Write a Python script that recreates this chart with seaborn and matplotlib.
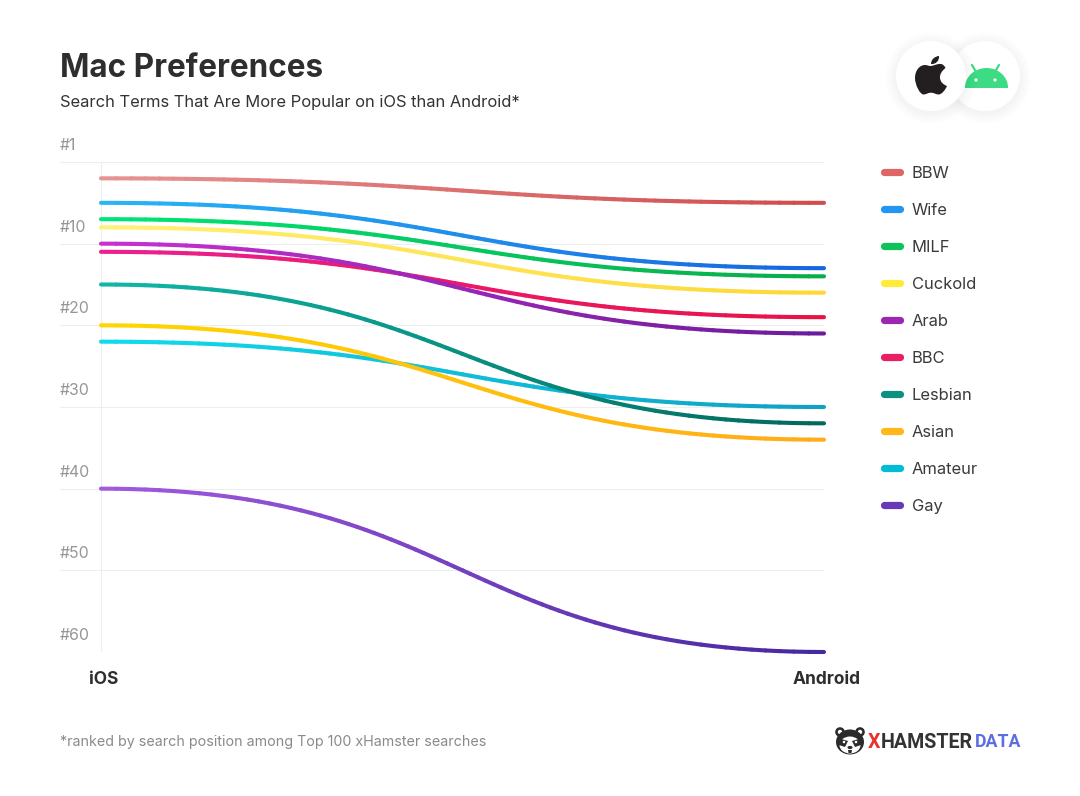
import matplotlib
matplotlib.use("Agg")
import matplotlib.pyplot as plt
import numpy as np
import pandas as pd
import seaborn as sns
from matplotlib.bezier import BezierSegment
from matplotlib.colors import to_rgb, to_hex
from matplotlib.lines import Line2D
from matplotlib.patches import Circle, Ellipse, PathPatch, Polygon, Rectangle
from matplotlib.path import Path
from matplotlib.transforms import ScaledTranslation

# ---- data -------------------------------------------------------------
terms = ["BBW", "Wife", "MILF", "Cuckold", "Arab", "BBC", "Lesbian", "Asian", "Amateur", "Gay"]
ios_rank = [2, 5, 7, 8, 10, 11, 15, 20, 22, 40]
android_rank = [5, 13, 14, 16, 21, 19, 32, 34, 30, 60]
platforms = ["iOS", "Android"]
rank_ticks = [0, 10, 20, 30, 40, 50, 60]
rank_labels = ["#1", "#10", "#20", "#30", "#40", "#50", "#60"]
legend_colors = ["#e06666", "#2196f3", "#0cc35a", "#ffeb3b", "#9c27b0",
                 "#e91e63", "#0d9080", "#ffb71b", "#00bcd4", "#673ab7"]
start_colors = ["#e89494", "#29b6f6", "#00e676", "#fff176", "#c931d0",
                "#ec2090", "#10b8a8", "#ffd600", "#10dcec", "#a35be0"]
end_colors = ["#cf4c4c", "#1565e0", "#0bab4a", "#fdd835", "#6a1b9a",
              "#e81245", "#00695c", "#ffab1a", "#10a0c4", "#4527a0"]

W, H = 1080, 796
DARK = "#2e2e2e"
FONT = "Inter"

sns.set_theme(style="white")
plt.rcParams["font.family"] = [FONT, "DejaVu Sans"]

fig = plt.figure(figsize=(W / 100, H / 100), dpi=100, facecolor="white")
ax = fig.add_axes([60 / W, (H - 652) / H, 764 / W, 490 / H])


def curve_frame(order):
    """Long table of short coloured pieces of each connector between the two ranks."""
    rows = []
    n = 70
    for i in order:
        a, b = ios_rank[i], android_rank[i]
        bez = BezierSegment(np.array([[0, a], [.5, a], [.5, b], [1, b]], float))
        pts = bez(np.linspace(0, 1, n + 1))
        c0, c1 = np.array(to_rgb(start_colors[i])), np.array(to_rgb(end_colors[i]))
        for k in range(n):
            key = f"{terms[i]}-{k:02d}"
            col = to_hex(c0 + (c1 - c0) * (pts[k, 0] + pts[k + 1, 0]) / 2)
            rows.append((key, pts[k, 0], pts[k, 1], col))
            rows.append((key, pts[k + 1, 0], pts[k + 1, 1], col))
    return pd.DataFrame(rows, columns=["piece", "x", "rank", "color"])


df = curve_frame(range(len(terms) - 1, -1, -1))
palette = dict(zip(df["piece"], df["color"]))
sns.lineplot(data=df, x="x", y="rank", hue="piece", hue_order=list(palette), palette=palette,
             estimator=None, sort=False, legend=False, ax=ax, linewidth=2.95,
             solid_capstyle="round", clip_on=False, zorder=3)

ax.set_xlim(-41 / 723, 1)
ax.set_ylim(60, 0)
ax.set_xlabel("")
ax.set_ylabel("")
for s in ax.spines.values():
    s.set_visible(False)
ax.set_xticks([0, 1], platforms)
ax.set_yticks(rank_ticks, rank_labels)
ax.grid(True, color="#eeeeee", linewidth=0.8)
ax.set_axisbelow(True)
ax.tick_params(axis="x", length=0, pad=13.5, labelsize=12.5, labelcolor=DARK)
ax.tick_params(axis="y", length=0, pad=0, labelsize=11.4, labelcolor="#969696")
for t in ax.get_xticklabels():
    t.set_fontweight("bold")
    t.set_transform(t.get_transform() + ScaledTranslation(2.5 / 100, 0, fig.dpi_scale_trans))
for t in ax.get_yticklabels():
    t.set_ha("left")
    t.set_va("bottom")
    t.set_transform(t.get_transform() + ScaledTranslation(0, 9 / 100, fig.dpi_scale_trans))

handles = [Line2D([], [], color=c, lw=5.2, solid_capstyle="round") for c in legend_colors]
leg = ax.legend(handles, terms, loc="upper left", bbox_to_anchor=(883.5 / W, (H - 166) / H),
                bbox_transform=fig.transFigure, frameon=False, fontsize=11.9,
                handlelength=1.0, handletextpad=0.7, labelspacing=1.33,
                borderpad=0, borderaxespad=0, labelcolor="#3a3a3a")

# ---- overlay in pixel coordinates: headings, logos ---------------------
ov = fig.add_axes([0, 0, 1, 1], facecolor="none")
ov.set_xlim(0, W)
ov.set_ylim(H, 0)
ov.axis("off")

ov.text(60, 68.5, "Mac Preferences", fontsize=22.7, fontweight="bold", color=DARK, va="center")
ov.text(60, 102, "Search Terms That Are More Popular on iOS than Android*", fontsize=11.9,
        color="#333333", va="center")
ov.text(60, 742, "*ranked by search position among Top 100 xHamster searches", fontsize=10.3,
        color="#8a8a8a", va="center")

# round badges with a soft shadow
for cx in (985, 931):
    for r in range(46, 35, -1):
        ov.add_patch(Circle((cx, 78), r, fc="#000000", ec="none", alpha=0.005))
    ov.add_patch(Circle((cx, 76), 35, fc="white", ec="none"))
    if cx == 985:
        green = "#3ddc84"
        head = Ellipse((986.5, 87.5), 43, 39, fc=green, ec="none")
        ov.add_patch(head)
        head.set_clip_path(Rectangle((960, 60), 55, 27.5, transform=ov.transData))
        ov.plot([972, 976], [65, 72], color=green, lw=1.6, solid_capstyle="round")
        ov.plot([999, 995], [65, 72], color=green, lw=1.6, solid_capstyle="round")
        ov.add_patch(Circle((976, 80), 1.6, fc="white", ec="none"))
        ov.add_patch(Circle((995, 80), 1.6, fc="white", ec="none"))

M, C, Z = Path.MOVETO, Path.CURVE4, Path.CLOSEPOLY
apple = [
    ((930, 66), M),
    ((934, 66), C), ((937, 63.5), C), ((941, 64), C),
    ((943, 64.2), C), ((944.6, 66), C), ((945.5, 68), C),
    ((941.5, 71), C), ((939.5, 75), C), ((940, 78), C),
    ((940.5, 82), C), ((943, 84.5), C), ((947, 86), C),
    ((945.5, 89.5), C), ((942, 94.5), C), ((938.5, 94.5), C),
    ((936, 94.5), C), ((934, 92.7), C), ((931, 92.7), C),
    ((928, 92.7), C), ((926, 94.5), C), ((923.5, 94.5), C),
    ((920, 94.5), C), ((915, 85), C), ((915, 78), C),
    ((915, 70), C), ((920, 65), C), ((925, 65), C),
    ((927, 65), C), ((929, 66), C), ((930, 66), C),
    ((930, 66), Z),
    ((931, 64), M),
    ((931, 60), C), ((934, 56.5), C), ((939, 56), C),
    ((939.5, 60.5), C), ((936, 64.5), C), ((931, 64), C),
    ((931, 64), Z),
]
ov.add_patch(PathPatch(Path([p for p, _ in apple], [c for _, c in apple]), fc="#231f20", ec="none"))

# data-team logo
ink = "#2b2b2b"
for ex in (840, 860):
    ov.add_patch(Circle((ex, 732), 4.8, fc=ink, ec="none"))
    ov.add_patch(Circle((ex, 732), 2.2, fc="white", ec="none"))
ov.add_patch(Ellipse((850, 742), 28, 25, fc=ink, ec="none"))
ov.add_patch(Ellipse((850, 745), 21, 17, fc="white", ec="none"))
ov.add_patch(Polygon([(838, 738), (848, 741), (845, 747), (839, 745)], fc=ink, ec="none"))
ov.add_patch(Polygon([(862, 738), (852, 741), (855, 747), (861, 745)], fc=ink, ec="none"))
ov.add_patch(Circle((844, 742), 1.3, fc="white", ec="none"))
ov.add_patch(Circle((856, 742), 1.3, fc="white", ec="none"))
ov.add_patch(Ellipse((850, 747.5), 5, 3.2, fc=ink, ec="none"))
ov.add_patch(Polygon([(848, 750), (852, 750), (851.5, 753), (848.5, 753)], fc=ink, ec="none"))

logo = dict(fontweight="bold", va="center", family="Roboto")
ov.text(868, 742, "X", color="#e8322e", fontsize=14.1, **logo)
ov.text(880.5, 742, "HAMSTER", color="#333333", fontsize=14.1, **logo)
ov.text(975, 742, "DATA", color="#5b6fe0", fontsize=12.8, **logo)

fig.savefig("out.png", dpi=100, facecolor="white")
